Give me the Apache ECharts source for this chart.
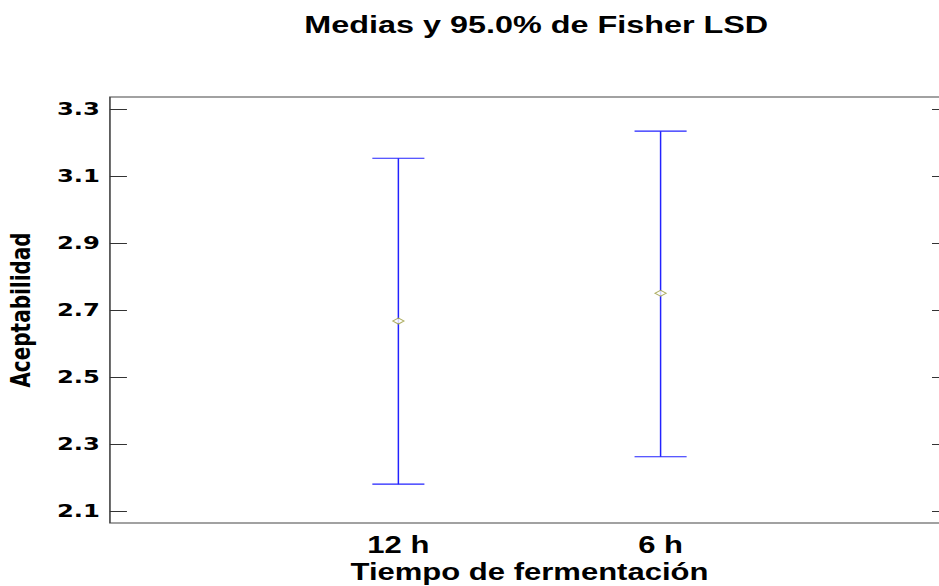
<!DOCTYPE html>
<html>
<head>
<meta charset="utf-8">
<script src="https://cdn.jsdelivr.net/npm/echarts@6/dist/echarts.min.js"></script>
<style>
html, body { margin: 0; padding: 0; width: 939px; height: 586px; overflow: hidden; background: #fff; }
#chart { width: 696px; height: 586px; transform: scaleX(1.349); transform-origin: 0 0; }
</style>
</head>
<body>
<div id="chart"></div>
<script>
// Data
const categories = ['12 h', '6 h'];
const catPositions = [1, 2];
const means = [2.667, 2.750];
const lower = [2.180, 2.262];
const upper = [3.153, 3.234];
const yTicks = [2.1, 2.3, 2.5, 2.7, 2.9, 3.1, 3.3];

const chart = echarts.init(document.getElementById('chart'), null, { renderer: 'svg' });

const barData = catPositions.map((p, i) => [p, lower[i], upper[i]]);
const meanData = catPositions.map((p, i) => [p, means[i]]);

const tickStyle = { show: true, inside: true, length: 12.6, customValues: yTicks, lineStyle: { color: '#333', width: 1 } };

chart.setOption({
  animation: false,
  backgroundColor: '#fff',
  title: {
    text: 'Medias y 95.0% de Fisher LSD',
    left: 392.5,
    textAlign: 'center',
    top: 8,
    textStyle: { fontFamily: 'Liberation Sans', fontWeight: 'bold', fontSize: 24, color: '#000' }
  },
  grid: {
    left: 81.5, top: 97, width: 622, height: 426,
    outerBoundsMode: 'none',
    containLabel: false,
    show: true, borderColor: '#444', borderWidth: 1.2, backgroundColor: 'transparent'
  },
  xAxis: {
    type: 'value', min: -0.1, max: 3.1,
    name: 'Tiempo de fermentación', nameLocation: 'middle', nameGap: 37,
    nameTextStyle: { fontFamily: 'Liberation Sans', fontWeight: 'bold', fontSize: 23, color: '#000' },
    axisLine: { show: false, onZero: false }, axisTick: { show: false }, splitLine: { show: false },
    axisLabel: {
      customValues: catPositions,
      formatter: v => categories[catPositions.indexOf(v)] || '',
      margin: 10,
      fontFamily: 'Liberation Sans', fontWeight: 'bold', fontSize: 23, color: '#000'
    }
  },
  yAxis: [{
    type: 'value', min: 2.064, max: 3.336, position: 'left',
    name: 'Aceptabilidad', nameLocation: 'middle', nameGap: 56, nameRotate: 90,
    nameTextStyle: { fontFamily: 'DejaVu Sans', fontWeight: 'bold', fontSize: 20, color: '#000' },
    axisLine: { show: false, onZero: false }, splitLine: { show: false },
    axisTick: tickStyle,
    axisLabel: {
      customValues: yTicks, formatter: v => v.toFixed(1), margin: 7.4,
      fontFamily: 'DejaVu Sans', fontWeight: 'bold', fontSize: 18, color: '#000'
    }
  }, {
    type: 'value', min: 2.064, max: 3.336, position: 'right',
    axisLine: { show: false, onZero: false }, splitLine: { show: false },
    axisTick: tickStyle,
    axisLabel: { show: false }
  }],
  series: [{
    type: 'custom',
    data: barData,
    encode: { x: 0, y: [1, 2] },
    renderItem: function (params, api) {
      const x = api.value(0);
      const pLo = api.coord([x, api.value(1)]);
      const pHi = api.coord([x, api.value(2)]);
      const hw = 19.3;
      const st = { stroke: '#2222ff', lineWidth: 1.1 };
      return {
        type: 'group',
        children: [
          { type: 'line', shape: { x1: pLo[0], y1: pLo[1], x2: pHi[0], y2: pHi[1] }, style: st },
          { type: 'line', shape: { x1: pHi[0] - hw, y1: pHi[1], x2: pHi[0] + hw, y2: pHi[1] }, style: st },
          { type: 'line', shape: { x1: pLo[0] - hw, y1: pLo[1], x2: pLo[0] + hw, y2: pLo[1] }, style: st }
        ]
      };
    },
    z: 2
  }, {
    type: 'scatter',
    data: meanData,
    symbol: 'diamond',
    symbolSize: [8.2, 6],
    itemStyle: { color: '#fff', borderColor: '#9a9a3a', borderWidth: 1 },
    z: 3
  }]
});
</script>
</body>
</html>
